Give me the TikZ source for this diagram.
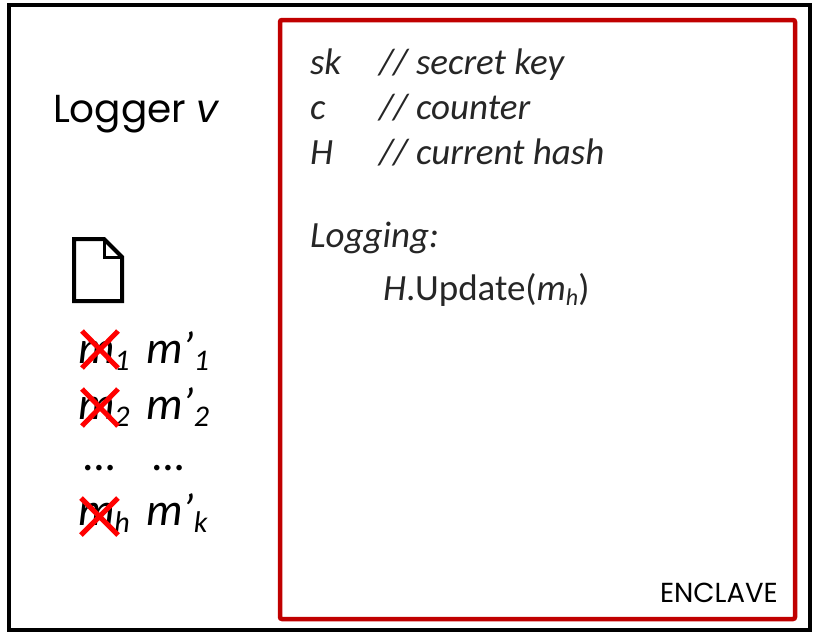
\documentclass[tikz,border=0pt]{standalone}
\usepackage{fontspec}
\setmainfont{Carlito}
\newfontfamily\gothic{Poppins}
\newfontfamily\calfont{Carlito}
\definecolor{enclred}{HTML}{C00000}
\definecolor{enctext}{HTML}{262626}
\newcommand\mysub[3]{\raisebox{-#2pt}{\fontsize{#1}{#1}\selectfont #3}}
\begin{document}
\begin{tikzpicture}[x=1pt,y=-1pt,
  txt/.style={anchor=base west,inner sep=0pt,outer sep=0pt},
  enc/.style={txt,text=enctext,font=\calfont\fontsize{37}{45}\selectfont\itshape},
  msg/.style={txt,font=\calfont\fontsize{46}{56}\selectfont\itshape},
  cross/.style={red,line width=5pt},
  frame/.style={line width=4pt},
]
\useasboundingbox (0,0) rectangle (813,632);
% outer frame
\draw[frame] (9,5) rectangle (810,630);
% enclave
\draw[enclred,line width=4.5pt,rounded corners=2pt] (280,20) rectangle (795,619);
% logger label
\node[txt,font=\gothic\fontsize{39}{46}\selectfont] (logger) at (53,122) {Logger \textit{v}};
% enclave contents
\node[enc] (sk) at (310,74) {sk};
\node[enc] (skc) at (379,74) {// secret key};
\node[enc] (c) at (310,119) {c};
\node[enc] (cc) at (379,119) {// counter};
\node[enc] (H) at (310,164) {H};
\node[enc] (Hc) at (379,164) {// current hash};
\node[enc] (logging) at (310,247) {Logging:};
\node[enc] (upd) at (383,300) {H\upshape.Update(\itshape m\mysub{24}{5}{h}\upshape)};
\node[txt,font=\gothic\fontsize{27.5}{32}\selectfont] (encl) at (660,602) {ENCLAVE};
% document icon
\draw[line width=4pt,line join=miter] (74,239) -- (104,239) -- (122,257) -- (122,301) -- (74,301) -- cycle;
\draw[line width=3pt] (104,239) -- (104,257) -- (122,257);
% messages
\node[msg] (m1) at (78,363) {m\mysub{30}{7}{1}};
\node[msg] (mp1) at (146,363) {m’\mysub{30}{7}{1}};
\node[msg] (m2) at (78,419) {m\mysub{30}{7}{2}};
\node[msg] (mp2) at (146,419) {m’\mysub{30}{7}{2}};
\node[msg] (d1) at (84,470) {…};
\node[msg] (d2) at (153,470) {…};
\node[msg] (mh) at (78,525) {m\mysub{30}{7}{h}};
\node[msg] (mpk) at (146,525) {m’\mysub{30}{7}{k}};
% crosses
\draw[cross] (82,331) -- (118,368) (118,331) -- (82,368);
\draw[cross] (82,389) -- (118,426) (118,389) -- (82,426);
\draw[cross] (81,498) -- (118,535) (118,498) -- (81,535);
\end{tikzpicture}
\end{document}
